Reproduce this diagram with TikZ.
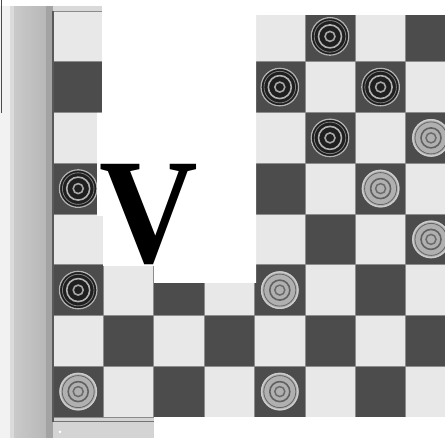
\documentclass[tikz,border=0pt]{standalone}
\usepackage{fontspec}
\newfontfamily\vfont{Liberation Serif}
\begin{document}
\begin{tikzpicture}[x=1pt,y=-1pt,
  dk/.style={fill=black!70},
  lt/.style={fill=black!9},
  gridline/.style={draw=black!45,line width=0.7pt},
  bpiece/.pic={
    \fill[black!88] (0,0) circle[radius=19.5pt];
    \draw[black!30, line width=1.3pt] (0,0) circle[radius=18.8pt];
    \draw[black!50, line width=0.8pt] (0,0) circle[radius=15.8pt];
    \draw[black!30, line width=1.6pt] (0,0) circle[radius=11.5pt];
    \draw[black!35, line width=1.6pt] (0,0) circle[radius=5pt];
  },
  lpiece/.pic={
    \fill[black!31] (0,0) circle[radius=18.8pt];
    \draw[black!20, line width=1.4pt] (0,0) circle[radius=18.2pt];
    \draw[black!60, line width=0.8pt] (0,0) circle[radius=16pt];
    \draw[black!62, line width=1.6pt] (0,0) circle[radius=10pt];
    \draw[black!58, line width=1.5pt] (0,0) circle[radius=5pt];
  }]
\useasboundingbox (0,0) rectangle (445,438);
\begin{scope}
\clip (0,0) rectangle (445,438);
\fill[white] (0,0) rectangle (445,438);
% left page strip
\fill[black!5] (0,6) rectangle (10,438);
\fill[black!14] (10,6) rectangle (14,438);
\shade[left color=black!21, right color=black!28] (14,6) rectangle (46,438);
\fill[black!36] (46,6) rectangle (53,438);
\draw[black!70, line width=1.5pt] (1.5,0) -- (1.5,113);
\fill[black!15] (53,6) rectangle (102,11);
% strip below board
\fill[black!17] (53,417) rectangle (154,438);
\draw[black!55, line width=1pt] (53,422) -- (154,422);
\fill[white] (60,432) circle[radius=1.5pt];
% board squares
\foreach \r in {1,...,8}{
  \foreach \c in {1,...,8}{
    \pgfmathsetmacro\xa{53+50.4*(\c-1)}
    \pgfmathsetmacro\ya{11+50.75*(\r-1)}
    \pgfmathtruncatemacro\sqpar{mod(\r+\c,2)}
    \ifnum\sqpar=1
      \fill[dk] (\xa,\ya) rectangle ++(50.4,50.75);
    \else
      \fill[lt] (\xa,\ya) rectangle ++(50.4,50.75);
    \fi
  }
}
\foreach \c in {0,...,8}{
  \draw[gridline] ({53+50.4*\c},11) -- ({53+50.4*\c},417);
}
\foreach \r in {0,...,8}{
  \draw[gridline] (53,{11+50.75*\r}) -- (456,{11+50.75*\r});
}
\draw[black!65, line width=1.2pt] (53,11) -- (53,422);
% pieces (column centre, row centre)
\pic at (330,36.4) {bpiece};
\pic at (279.8,87.1) {bpiece};
\pic at (380.6,87.1) {bpiece};
\pic at (330,137.9) {bpiece};
\pic at (431,137.9) {lpiece};
\pic at (78.2,188.6) {bpiece};
\pic at (380.6,188.6) {lpiece};
\pic at (431,239.4) {lpiece};
\pic at (78.2,290.1) {bpiece};
\pic at (279.8,290.1) {lpiece};
\pic at (78.2,391.6) {lpiece};
\pic at (279.8,391.6) {lpiece};
% white cut-out areas
\fill[white] (102,0) -- (445,0) -- (445,15) -- (256,15) -- (256,283)
  -- (154,283) -- (154,266) -- (103,266) -- (103,216) -- (97,216)
  -- (97,113) -- (102,113) -- cycle;
\fill[white] (10,0) rectangle (445,6);
\fill[white] (154,417) rectangle (445,438);
\end{scope}
\node[font=\vfont\bfseries\fontsize{150}{150}\selectfont, anchor=base, inner sep=0pt, xscale=0.91] (v) at (148.5,263) {V};
\end{tikzpicture}
\end{document}
